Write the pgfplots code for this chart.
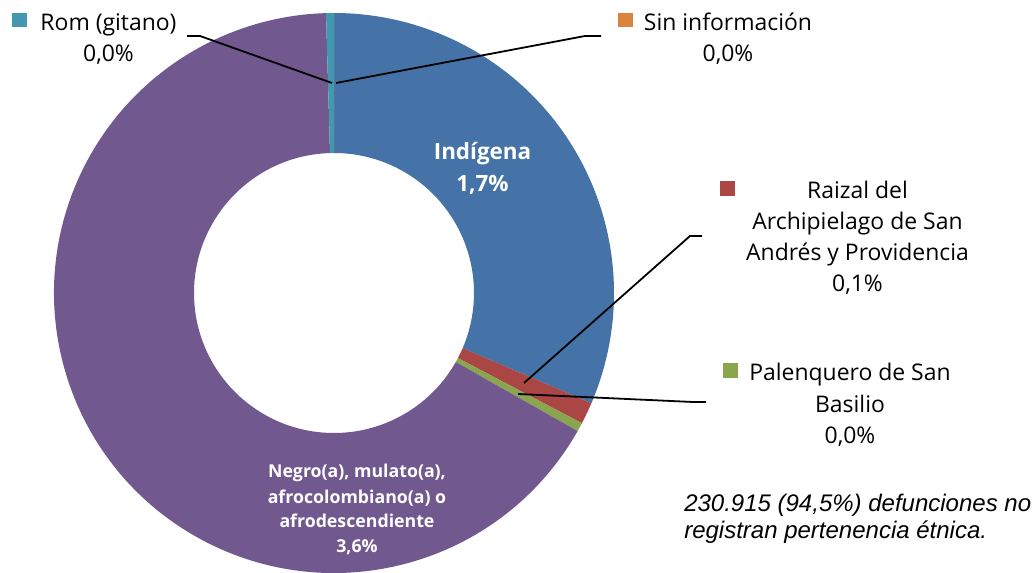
\documentclass[border=0pt]{standalone}
\usepackage{fontspec}
\setmainfont{Open Sans}
\newfontfamily\notefont{Liberation Sans}
\usepackage{pgfplots}
\usepackage{pgfplotstable}
\pgfplotsset{compat=1.18}

\definecolor{cA}{HTML}{4572A7}
\definecolor{cB}{HTML}{AA4643}
\definecolor{cC}{HTML}{89A54E}
\definecolor{cD}{HTML}{71588F}
\definecolor{cE}{HTML}{4198AF}
\definecolor{cF}{HTML}{DB843D}

% share of all deaths (%), in clockwise order from the top
\pgfplotstableread{
label value
Indigena 1.730
Raizal 0.069
Palenquero 0.028
Negro 3.650
Rom 0.025
Sin 0.000
}\datatable

\pgfplotstablegetelem{0}{value}\of\datatable \let\vA\pgfplotsretval
\pgfplotstablegetelem{1}{value}\of\datatable \let\vB\pgfplotsretval
\pgfplotstablegetelem{2}{value}\of\datatable \let\vC\pgfplotsretval
\pgfplotstablegetelem{3}{value}\of\datatable \let\vD\pgfplotsretval
\pgfplotstablegetelem{4}{value}\of\datatable \let\vE\pgfplotsretval
\pgfplotstablegetelem{5}{value}\of\datatable \let\vF\pgfplotsretval
\pgfmathsetmacro\tot{\vA+\vB+\vC+\vD+\vE+\vF}
\pgfmathsetmacro\aA{90}
\pgfmathsetmacro\aB{\aA-360*\vA/\tot}
\pgfmathsetmacro\aC{\aB-360*\vB/\tot}
\pgfmathsetmacro\aD{\aC-360*\vC/\tot}
\pgfmathsetmacro\aE{\aD-360*\vD/\tot}
\pgfmathsetmacro\aF{\aE-360*\vE/\tot}
\pgfmathsetmacro\aG{\aF-360*\vF/\tot}

\newcommand\lbl{\fontsize{17.2pt}{20pt}\selectfont}
\newcommand\lblb{\fontsize{16.8pt}{20pt}\selectfont\bfseries}
\newcommand\lblc{\fontsize{13.3pt}{16pt}\selectfont\bfseries}
\newcommand\notef{\notefont\itshape\fontsize{18pt}{21pt}\selectfont}

\newcommand\sector[3]{%
  \fill[#1] (axis cs:{334+280*cos(#2)},{279+280*sin(#2)})
    arc[start angle=#2,end angle=#3,radius=280]
    -- (axis cs:{334+140*cos(#3)},{279+140*sin(#3)})
    arc[start angle=#3,end angle=#2,radius=140] -- cycle;}

\begin{document}%
\begin{tikzpicture}
\begin{axis}[
  width=777pt, height=429pt, scale only axis,
  xmin=0, xmax=1036, ymin=0, ymax=572,
  hide axis, disabledatascaling, clip=true,
]
\sector{cA}{\aA}{\aB}
\sector{cB}{\aB}{\aC}
\sector{cC}{\aC}{\aD}
\sector{cD}{\aD}{\aE}
\sector{cE}{\aE}{\aF}
\sector{cF}{\aF}{\aG}

% leader lines
\draw[black, line width=1.35pt] (axis cs:187,536) -- (axis cs:200,536) -- (axis cs:332,489);
\draw[black, line width=1.35pt] (axis cs:336,489) -- (axis cs:585,536) -- (axis cs:601,536);
\draw[black, line width=1.35pt] (axis cs:524,189) -- (axis cs:690,336) -- (axis cs:702,336);
\draw[black, line width=1.35pt] (axis cs:518,178) -- (axis cs:693,170) -- (axis cs:706,170);

% legend keys
\fill[cE] (axis cs:12,545) rectangle (axis cs:27,559);
\fill[cF] (axis cs:618,545) rectangle (axis cs:633,559);
\fill[cB] (axis cs:720,376) rectangle (axis cs:735,391);
\fill[cC] (axis cs:723,194) rectangle (axis cs:738,209);

% outside labels
\node[anchor=base, inner sep=0, font=\lbl] at (axis cs:108.5,541) {Rom (gitano)};
\node[anchor=base, inner sep=0, font=\lbl] at (axis cs:108.5,510) {0,0\%};
\node[anchor=base, inner sep=0, font=\lbl] at (axis cs:728,541) {Sin información};
\node[anchor=base, inner sep=0, font=\lbl] at (axis cs:728,510) {0,0\%};
\node[anchor=base, inner sep=0, font=\lbl] at (axis cs:857.5,373) {Raizal del};
\node[anchor=base, inner sep=0, font=\lbl] at (axis cs:857.5,342) {Archipielago de San};
\node[anchor=base, inner sep=0, font=\lbl] at (axis cs:857.5,311) {Andrés y Providencia};
\node[anchor=base, inner sep=0, font=\lbl] at (axis cs:857.5,280) {0,1\%};
\node[anchor=base, inner sep=0, font=\lbl] at (axis cs:850,191) {Palenquero de San};
\node[anchor=base, inner sep=0, font=\lbl] at (axis cs:850,160) {Basilio};
\node[anchor=base, inner sep=0, font=\lbl] at (axis cs:850,129) {0,0\%};

% inside labels
\node[anchor=base, inner sep=0, font=\lblb, text=white] at (axis cs:482.5,412) {Indígena};
\node[anchor=base, inner sep=0, font=\lblb, text=white] at (axis cs:482.5,380) {1,7\%};
\node[anchor=base, inner sep=0, font=\lblc, text=white] at (axis cs:357,95) {Negro(a), mulato(a),};
\node[anchor=base, inner sep=0, font=\lblc, text=white] at (axis cs:357,69) {afrocolombiano(a) o};
\node[anchor=base, inner sep=0, font=\lblc, text=white] at (axis cs:357,45) {afrodescendiente};
\node[anchor=base, inner sep=0, font=\lblc, text=white] at (axis cs:357,20) {3,6\%};

% note
\node[anchor=base west, inner sep=0, font=\notef] at (axis cs:684,61) {230.915 (94,5\%) defunciones no};
\node[anchor=base west, inner sep=0, font=\notef] at (axis cs:684,34) {registran pertenencia étnica.};
\end{axis}
\pgfresetboundingbox
\useasboundingbox (0,0) rectangle (777pt,429pt);
\end{tikzpicture}%
\end{document}
